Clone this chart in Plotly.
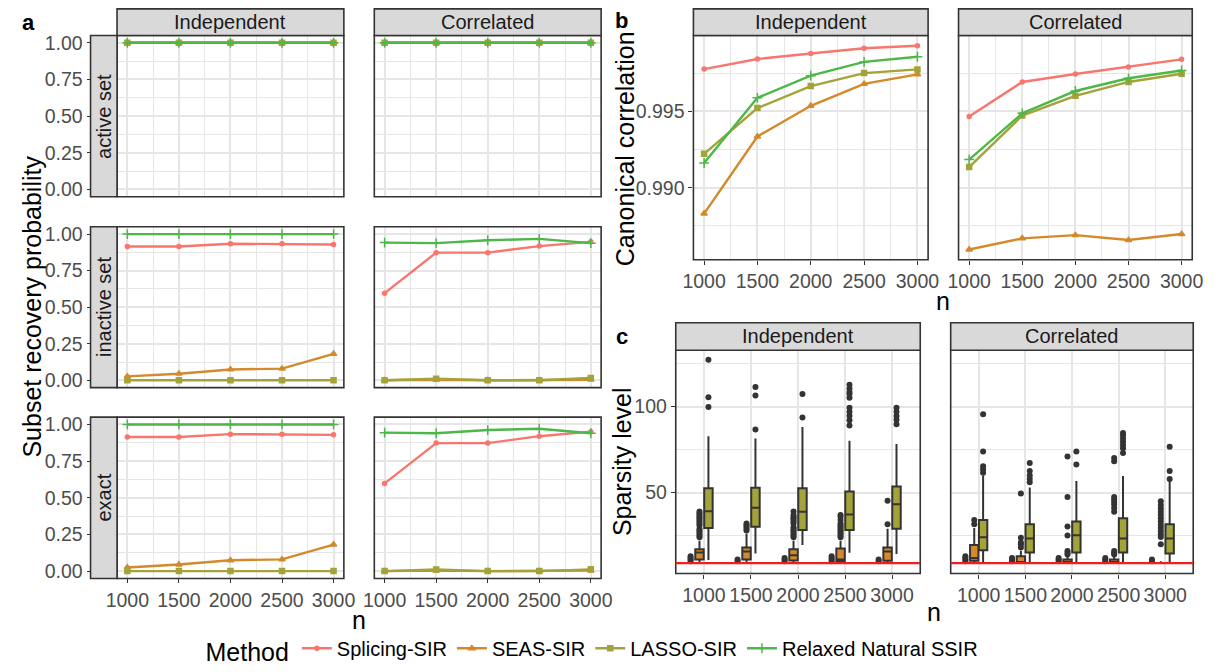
import plotly.graph_objects as go

W, H = 1216, 672
def X(px): return px / W
def Y(py): return 1 - py / H

FONT = "Liberation Sans, Arial, sans-serif"

# ---------------- data ----------------
n_vals = [1000, 1500, 2000, 2500, 3000]
n_labels = ["1000", "1500", "2000", "2500", "3000"]
methods = ["Splicing-SIR", "SEAS-SIR", "LASSO-SIR", "Relaxed Natural SSIR"]
designs = ["Independent", "Correlated"]
metrics = ["active set", "inactive set", "exact"]

# panel a: subset recovery probability
active_ind = {"Splicing-SIR": [1, 1, 1, 1, 1], "SEAS-SIR": [1, 1, 1, 1, 1],
              "LASSO-SIR": [1, 1, 1, 1, 1], "Relaxed Natural SSIR": [1, 1, 1, 1, 1]}
active_cor = {"Splicing-SIR": [1, 1, 1, 1, 1], "SEAS-SIR": [1, 1, 1, 1, 1],
              "LASSO-SIR": [1, 1, 1, 1, 1], "Relaxed Natural SSIR": [1, 1, 1, 1, 1]}
inactive_ind = {"Splicing-SIR": [0.915, 0.915, 0.934, 0.934, 0.929],
                "SEAS-SIR": [0.027, 0.045, 0.074, 0.080, 0.181],
                "LASSO-SIR": [0, 0, 0, 0, 0],
                "Relaxed Natural SSIR": [1, 1, 1, 1, 1]}
inactive_cor = {"Splicing-SIR": [0.596, 0.873, 0.873, 0.918, 0.947],
                "SEAS-SIR": [0.0, 0.004, 0.0, 0.0, 0.004],
                "LASSO-SIR": [0.0, 0.011, 0.0, 0.0, 0.016],
                "Relaxed Natural SSIR": [0.942, 0.938, 0.958, 0.967, 0.938]}
exact_ind = {"Splicing-SIR": [0.915, 0.915, 0.934, 0.934, 0.929],
             "SEAS-SIR": [0.025, 0.045, 0.074, 0.080, 0.181],
             "LASSO-SIR": [0, 0, 0, 0, 0],
             "Relaxed Natural SSIR": [1, 1, 1, 1, 1]}
exact_cor = {"Splicing-SIR": [0.598, 0.873, 0.873, 0.920, 0.951],
             "SEAS-SIR": [0.0, 0.004, 0.0, 0.0, 0.004],
             "LASSO-SIR": [0.0, 0.011, 0.0, 0.0, 0.012],
             "Relaxed Natural SSIR": [0.944, 0.940, 0.962, 0.971, 0.940]}

# panel b: canonical correlation
cc_ind = {"Splicing-SIR": [0.99776, 0.99842, 0.99878, 0.99912, 0.99929],
          "SEAS-SIR": [0.98831, 0.99335, 0.99536, 0.99679, 0.99742],
          "LASSO-SIR": [0.99222, 0.99521, 0.99665, 0.99750, 0.99774],
          "Relaxed Natural SSIR": [0.99162, 0.99588, 0.99733, 0.99823, 0.99857]}
cc_cor = {"Splicing-SIR": [0.99466, 0.99692, 0.99744, 0.99790, 0.99840],
          "SEAS-SIR": [0.98596, 0.98669, 0.98690, 0.98658, 0.98697],
          "LASSO-SIR": [0.99135, 0.99472, 0.99601, 0.99692, 0.99746],
          "Relaxed Natural SSIR": [0.99184, 0.99487, 0.99633, 0.99716, 0.99767]}

# panel c: sparsity level box statistics
true_sparsity = 9
ind_q1 = {"Splicing-SIR": [9, 9, 9, 9, 9], "SEAS-SIR": [11, 11, 10.5, 10, 10.3],
          "LASSO-SIR": [29.4, 30.1, 28.2, 28.2, 29.0], "Relaxed Natural SSIR": [9, 9, 9, 9, 9]}
ind_med = {"Splicing-SIR": [9, 9, 9, 9, 9], "SEAS-SIR": [15.2, 15.7, 13.5, 11, 15.7],
           "LASSO-SIR": [39.2, 41.1, 38.8, 37.3, 43.2], "Relaxed Natural SSIR": [9, 9, 9, 9, 9]}
ind_q3 = {"Splicing-SIR": [9, 9, 9, 9, 9], "SEAS-SIR": [17, 18, 17, 17.4, 18],
          "LASSO-SIR": [52.5, 52.8, 52.5, 50.6, 53.6], "Relaxed Natural SSIR": [9, 9, 9, 9, 9]}
ind_lo = {"Splicing-SIR": [9, 9, 9, 9, 9], "SEAS-SIR": [9, 9, 9, 9, 9],
          "LASSO-SIR": [10.8, 14.6, 19.5, 15.0, 14.2], "Relaxed Natural SSIR": [9, 9, 9, 9, 9]}
ind_hi = {"Splicing-SIR": [9, 9, 9, 9, 9], "SEAS-SIR": [22, 26, 22, 22, 29],
          "LASSO-SIR": [82.8, 81.4, 88.1, 80.1, 78.2], "Relaxed Natural SSIR": [9, 9, 9, 9, 9]}
ind_out = {"Splicing-SIR": [[10, 11, 12, 13], [10, 11], [10, 11, 12], [10, 11, 12, 13], [10, 11]],
           "SEAS-SIR": [[24, 25, 26, 27, 28, 29, 31, 32, 33, 34, 35, 36, 37, 38, 39],
                        [28, 29, 30, 31, 32],
                        [24, 25, 26, 27, 28, 29, 30, 32, 33, 34, 35, 36, 37, 39],
                        [24, 25, 26, 27, 28, 29, 30, 31, 32, 34, 36, 37],
                        [31.6, 45.3]],
           "LASSO-SIR": [[99.8, 105.5, 127.3], [86.7, 106.4, 111.4], [93.7, 107.4],
                         [89, 92, 94.7, 97, 99.4, 105.1, 107.4, 108.5, 110.5, 112.7],
                         [89.7, 92.3, 94.5, 97.0, 99.4]],
           "Relaxed Natural SSIR": [[], [], [], [], []]}

cor_q1 = {"Splicing-SIR": [9, 9, 9, 9, 9], "SEAS-SIR": [10.3, 9, 9, 9, 9],
          "LASSO-SIR": [16.5, 15.2, 15.2, 15.2, 14.6], "Relaxed Natural SSIR": [9, 9, 9, 9, 9]}
cor_med = {"Splicing-SIR": [9, 9, 9, 9, 9], "SEAS-SIR": [11.9, 9, 9, 9, 9],
           "LASSO-SIR": [24.0, 23.3, 25.2, 23.3, 23.3], "Relaxed Natural SSIR": [9, 9, 9, 9, 9]}
cor_q3 = {"Splicing-SIR": [9, 9, 9, 9, 9], "SEAS-SIR": [19.5, 13, 11, 11, 9],
          "LASSO-SIR": [34.1, 31.6, 33.1, 35.1, 31.6], "Relaxed Natural SSIR": [9, 9, 9, 9, 9]}
cor_lo = {"Splicing-SIR": [9, 9, 9, 9, 9], "SEAS-SIR": [9, 9, 9, 9, 9],
          "LASSO-SIR": [9.5, 9, 9, 9, 9], "Relaxed Natural SSIR": [9, 9, 9, 9, 9]}
cor_hi = {"Splicing-SIR": [9, 9, 9, 9, 9], "SEAS-SIR": [29.4, 16, 13, 13, 10],
          "LASSO-SIR": [60.0, 53.0, 56.8, 59.7, 56.8], "Relaxed Natural SSIR": [9, 9, 9, 9, 9]}
cor_out = {"Splicing-SIR": [[10, 11, 12, 13], [10, 11, 12], [10, 11, 12], [10, 11, 12], [10, 11]],
           "SEAS-SIR": [[31.6, 34.1], [18, 20, 21, 23.7, 49.4],
                        [14, 15, 16, 25, 30.3, 47.4, 71],
                        [14, 15, 16, 38.8, 41, 43, 44.5, 46, 47.4, 68.2, 70.1],
                        [19.9, 24.1, 25.6, 27.5, 29.4, 31.2, 33.1, 35.0, 36.9, 38.8, 40.8, 42.7, 44.9]],
           "LASSO-SIR": [[61.5, 63.4, 65.3, 73.9, 95.6], [56.0, 57.9, 60.0, 62.5, 67.2],
                         [66.3, 73.9], [73.0, 75.8, 77.7, 79.6, 81.4, 83.4, 84.7],
                         [57.9, 62.5, 76.7]],
           "Relaxed Natural SSIR": [[], [], [], [], []]}

# ---------------- styles ----------------
colors = {"Splicing-SIR": "#F8766D", "SEAS-SIR": "#D4892A",
          "LASSO-SIR": "#A3A33A", "Relaxed Natural SSIR": "#4DB748"}
symbols = {"Splicing-SIR": "circle", "SEAS-SIR": "triangle-up",
           "LASSO-SIR": "square", "Relaxed Natural SSIR": "cross-thin"}
msize = {"Splicing-SIR": 4, "SEAS-SIR": 5.5, "LASSO-SIR": 5, "Relaxed Natural SSIR": 7}
GRID = "#E6E6E6"
DARK = "#333333"
TICKC = "#4D4D4D"
TICKSIZE = 19.5

fig = go.Figure()
layout = {}
shapes = []
annotations = []

def add_axes(i, x0, x1, y0, y1, xrange, yrange, xticks, yticks, xminor, yminor,
             show_x, show_y, ypos=None, xticktext=None):
    xa = dict(domain=[X(x0), X(x1)], anchor=f"y{i}", range=xrange,
              tickmode="array", tickvals=xticks,
              showticklabels=show_x, ticks="outside" if show_x else "",
              ticklen=4, tickwidth=1.3, tickcolor=DARK,
              tickfont=dict(size=TICKSIZE, color=TICKC, family=FONT),
              showgrid=True, gridcolor=GRID, gridwidth=2, zeroline=False, showline=False,
              fixedrange=True)
    if xticktext is not None:
        xa["ticktext"] = xticktext
    if xminor:
        xa["minor"] = dict(tickmode="array", tickvals=xminor, showgrid=True,
                           gridcolor=GRID, gridwidth=1, ticks="")
    ya = dict(domain=[Y(y1), Y(y0)], range=yrange, tickmode="array", tickvals=yticks[0],
              ticktext=yticks[1],
              showticklabels=show_y, ticks="outside" if show_y else "",
              ticklen=4, tickwidth=1.3, tickcolor=DARK,
              tickfont=dict(size=TICKSIZE, color=TICKC, family=FONT),
              showgrid=True, gridcolor=GRID, gridwidth=2, zeroline=False, showline=False,
              fixedrange=True)
    if ypos is not None:
        ya["anchor"] = "free"
        ya["position"] = X(ypos)
    else:
        ya["anchor"] = f"x{i}"
    if yminor:
        ya["minor"] = dict(tickmode="array", tickvals=yminor, showgrid=True,
                           gridcolor=GRID, gridwidth=1, ticks="")
    layout["xaxis" if i == 1 else f"xaxis{i}"] = xa
    layout["yaxis" if i == 1 else f"yaxis{i}"] = ya
    shapes.append(dict(type="rect", xref="paper", yref="paper", x0=X(x0), x1=X(x1),
                       y0=Y(y1), y1=Y(y0), line=dict(color=DARK, width=1.6),
                       fillcolor="rgba(0,0,0,0)", layer="above"))

def strip(x0, x1, y0, y1, text, angle=0):
    shapes.append(dict(type="rect", xref="paper", yref="paper", x0=X(x0), x1=X(x1),
                       y0=Y(y1), y1=Y(y0), line=dict(color=DARK, width=1.6),
                       fillcolor="#D9D9D9", layer="above"))
    annotations.append(dict(xref="paper", yref="paper", x=X((x0 + x1) / 2), y=Y((y0 + y1) / 2),
                            text=text, showarrow=False, textangle=angle,
                            font=dict(size=20, color="#1A1A1A", family=FONT),
                            xanchor="center", yanchor="middle"))

def text(x, y, s, size, angle=0, bold=False, color="black", yanchor="middle"):
    annotations.append(dict(xref="paper", yref="paper", x=X(x), y=Y(y),
                            text=f"<b>{s}</b>" if bold else s, showarrow=False,
                            textangle=angle, font=dict(size=size, color=color, family=FONT),
                            xanchor="center", yanchor=yanchor))

xr = [900, 3100]
xminor = [1250, 1750, 2250, 2750]

# ---------------- panel a ----------------
a_cols = [(108, 339), (370, 601)]
a_rows = [(32, 196), (226.5, 390), (420, 584)]
a_data = [[active_ind, active_cor], [inactive_ind, inactive_cor], [exact_ind, exact_cor]]
yt_a = ([0, 0.25, 0.5, 0.75, 1.0], ["0.00", "0.25", "0.50", "0.75", "1.00"])
ym_a = [0.125, 0.375, 0.625, 0.875]
ax = 0
for r, (y0, y1) in enumerate(a_rows):
    for c, (x0, x1) in enumerate(a_cols):
        ax += 1
        add_axes(ax, x0, x1, y0, y1, xr, [-0.05, 1.05], n_vals, yt_a, xminor, ym_a,
                 show_x=(r == 2), show_y=(c == 0), ypos=81 if c == 0 else None)
        d = a_data[r][c]
        for m in methods:
            fig.add_trace(go.Scatter(x=n_vals, y=d[m], mode="lines+markers",
                                     xaxis=f"x{ax}", yaxis=f"y{ax}",
                                     line=dict(color=colors[m], width=2.4),
                                     marker=dict(symbol=symbols[m], size=msize[m], color=colors[m],
                                                 line=dict(color=colors[m], width=1.5)),
                                     showlegend=False, hoverinfo="skip"))
    strip(81, 108, y0, y1, metrics[r], angle=-90)
for c, (x0, x1) in enumerate(a_cols):
    strip(x0, x1, 5, 32, designs[c])

# ---------------- panel b ----------------
b_cols = [(695, 934), (965, 1203)]
yt_b = ([0.990, 0.995], ["0.990", "0.995"])
ym_b = [0.9875, 0.9925, 0.9975]
for c, (x0, x1) in enumerate(b_cols):
    ax += 1
    add_axes(ax, x0, x1, 32, 260, xr, [0.98529, 0.99996], n_vals, yt_b, xminor, ym_b,
             show_x=True, show_y=(c == 0))
    d = [cc_ind, cc_cor][c]
    for m in methods:
        fig.add_trace(go.Scatter(x=n_vals, y=d[m], mode="lines+markers",
                                 xaxis=f"x{ax}", yaxis=f"y{ax}", name=m, legendgroup=m,
                                 line=dict(color=colors[m], width=2.4),
                                 marker=dict(symbol=symbols[m], size=msize[m], color=colors[m],
                                             line=dict(color=colors[m], width=1.5)),
                                 showlegend=(c == 0), hoverinfo="skip"))
    strip(x0, x1, 5, 32, designs[c])

# ---------------- panel c ----------------
c_cols = [(677, 926), (957, 1204)]
yt_c = ([50, 100], ["50", "100"])
ym_c = [25, 75, 125]
cat_pos = [i + 1 for i in range(len(n_vals))]
dodge = 0.19
stats = [(ind_q1, ind_med, ind_q3, ind_lo, ind_hi, ind_out),
         (cor_q1, cor_med, cor_q3, cor_lo, cor_hi, cor_out)]
for c, (x0, x1) in enumerate(c_cols):
    ax += 1
    add_axes(ax, x0, x1, 352, 579, [0.4, 5.6], [2.9, 132.8], cat_pos, yt_c, None, ym_c,
             show_x=True, show_y=(c == 0), xticktext=n_labels)
    q1, med, q3, lo, hi, out = stats[c]
    for k, m in enumerate(methods):
        pos = [p + (k - 1.5) * dodge for p in cat_pos]
        fig.add_trace(go.Box(x=pos, q1=q1[m], median=med[m], q3=q3[m],
                             lowerfence=lo[m], upperfence=hi[m], width=0.18,
                             xaxis=f"x{ax}", yaxis=f"y{ax}", fillcolor=colors[m],
                             line=dict(color=DARK, width=2), whiskerwidth=0,
                             boxpoints=False, showlegend=False, hoverinfo="skip"))
        ox, oy = [], []
        for j, vals in enumerate(out[m]):
            ox += [pos[j]] * len(vals)
            oy += vals
        if oy:
            fig.add_trace(go.Scatter(x=ox, y=oy, mode="markers", xaxis=f"x{ax}", yaxis=f"y{ax}",
                                     marker=dict(color=DARK, size=6), showlegend=False,
                                     hoverinfo="skip"))
    shapes.append(dict(type="line", xref=f"x{ax} domain", x0=0, x1=1, yref=f"y{ax}",
                       y0=true_sparsity, y1=true_sparsity,
                       line=dict(color="#F01E1E", width=2.2), layer="above"))
    strip(x0, x1, 324, 352, designs[c])

# ---------------- titles / labels ----------------
text(18, 19, "a", 22, bold=True)
text(622, 17, "b", 22, bold=True)
text(622, 338, "c", 22, bold=True)
text(21, 308, "Subset recovery probability", 25, angle=-90)
text(625, 147, "Canonical correlation", 25, angle=-90)
text(623, 465, "Sparsity level", 25, angle=-90)
text(354, 610, "n", 25, yanchor="top")
text(949, 286, "n", 25, yanchor="top")
text(940, 602, "n", 25, yanchor="top")

layout.update(dict(
    width=W, height=H, margin=dict(l=0, r=0, t=0, b=0),
    paper_bgcolor="white", plot_bgcolor="white",
    font=dict(family=FONT, color="black"),
    shapes=shapes, annotations=annotations,
    boxmode="overlay",
    showlegend=True,
    legend=dict(orientation="h", x=X(196), xanchor="left", y=Y(657), yanchor="middle",
                title=dict(text="Method", font=dict(size=25, family=FONT, color="black")),
                font=dict(size=20, family=FONT, color="black"),
                itemwidth=30, bgcolor="rgba(0,0,0,0)"),
))
fig.update_layout(**layout)
fig.write_html("out.html", config={"displayModeBar": False})
